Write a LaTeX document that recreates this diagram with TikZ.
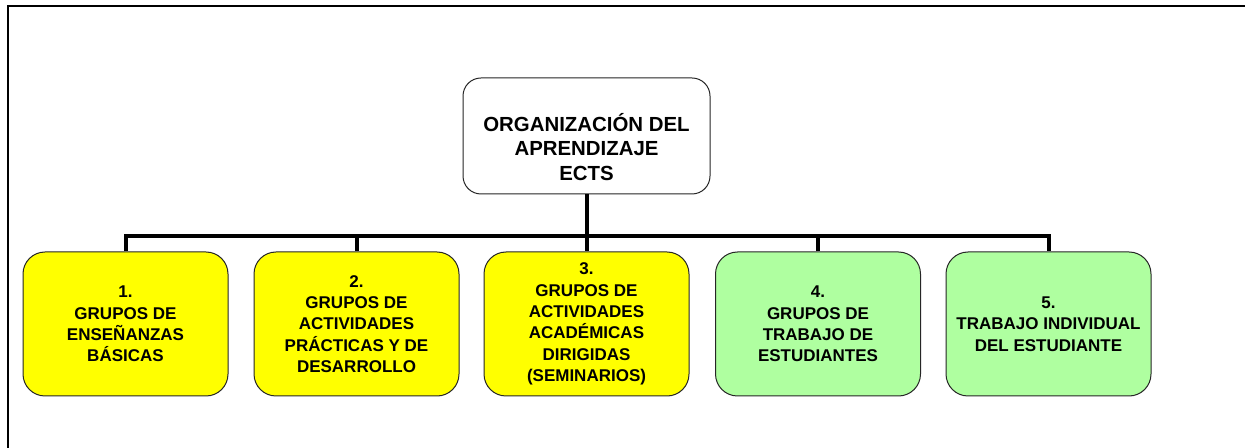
\documentclass[tikz,border=0pt]{standalone}
\usepackage{fontspec}
\setmainfont{Liberation Sans}
\definecolor{amarillo}{RGB}{255,255,0}
\definecolor{verdeclaro}{RGB}{175,255,160}
\begin{document}
\begin{tikzpicture}[x=0.75pt,y=-0.75pt,
  caja/.style={draw=black!85,line width=0.75pt,rounded corners=16.5pt,
    minimum width=153.75pt,minimum height=108pt,inner sep=0pt,
    align=center,font=\fontsize{12.75}{16}\selectfont\bfseries},
  raiz/.style={draw=black!85,line width=0.75pt,rounded corners=13.5pt,
    fill=white,minimum width=185.25pt,minimum height=87pt,inner sep=0pt},
  raiztxt/.style={align=center,inner sep=0pt,
    font=\fontsize{15.3}{18.5}\selectfont\bfseries},
  rama/.style={line width=3pt}]
\useasboundingbox(0,0)rectangle(1245,448);
\draw[line width=1.5pt](8,448)|-(1245,6);
\node[raiz](org)at(586.5,136){};
\node[raiztxt](orgtxt)at([yshift=-8.25pt]org.center){ORGANIZACIÓN DEL\\APRENDIZAJE\\ECTS};
\node[caja,fill=amarillo](g1)at(125.5,324){1.\\GRUPOS DE\\ENSEÑANZAS\\BÁSICAS};
\node[caja,fill=amarillo](g2)at(356.5,324){2.\\GRUPOS DE\\ACTIVIDADES\\PRÁCTICAS Y DE\\DESARROLLO};
\node[caja,fill=amarillo](g3)at(586.5,324){3.\\GRUPOS DE\\ACTIVIDADES\\ACADÉMICAS\\DIRIGIDAS\\(SEMINARIOS)};
\node[caja,fill=verdeclaro](g4)at(818,324){4.\\GRUPOS DE\\TRABAJO DE\\ESTUDIANTES};
\node[caja,fill=verdeclaro](g5)at(1048.5,324){5.\\TRABAJO INDIVIDUAL\\DEL ESTUDIANTE};
\coordinate(barra)at(586.5,236);
\draw[rama](org.south)--(g3.north);
\draw[rama](g1.north)--(g1.north|-barra)--(g5.north|-barra)--(g5.north);
\foreach \g in {g2,g4}
  \draw[rama](\g.north)--(\g.north|-barra);
\end{tikzpicture}
\end{document}
